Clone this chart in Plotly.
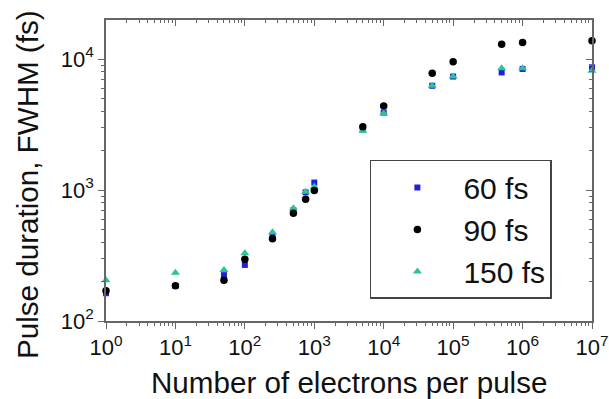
import plotly.graph_objects as go

electrons = [1, 10, 50, 100, 250, 500, 750, 1000, 5000, 1e4, 5e4, 1e5, 5e5, 1e6, 1e7]
fwhm_60 = [163, 185, 224, 268, 440, 700, 960, 1140, 2900, 3900, 6250, 7350, 7900, 8400, 8650]
fwhm_90 = [170, 186, 205, 296, 425, 664, 850, 990, 3040, 4370, 7780, 9520, 12950, 13400, 13800]
fwhm_150 = [205, 234, 245, 329, 475, 725, 970, 1060, 2840, 3850, 6250, 7350, 8490, 8500, 8150]

x_tickvals = [1, 10, 100, 1e3, 1e4, 1e5, 1e6, 1e7]
x_ticktext = ["10<sup>0</sup>", "10<sup>1</sup>", "10<sup>2</sup>", "10<sup>3</sup>",
              "10<sup>4</sup>", "10<sup>5</sup>", "10<sup>6</sup>", "10<sup>7</sup>"]
y_tickvals = [100, 1000, 10000]
y_ticktext = ["10<sup>2</sup>", "10<sup>3</sup>", "10<sup>4</sup>"]

x_minor = [m * 10 ** k for k in range(0, 7) for m in range(2, 10)]
y_minor = [m * 10 ** k for k in range(2, 5) for m in range(2, 10)]

FONT = "Liberation Sans, Arial, sans-serif"
AXC = "#666666"

fig = go.Figure()
fig.add_trace(go.Scatter(x=electrons, y=fwhm_60, mode="markers", name="60 fs",
                         marker=dict(symbol="square", size=6, color="#1f1fe0"),
                         legendrank=1, cliponaxis=False))
fig.add_trace(go.Scatter(x=electrons, y=fwhm_150, mode="markers", name="150 fs",
                         marker=dict(symbol="triangle-up", size=8, color="#2cc497"),
                         legendrank=3, cliponaxis=False))
fig.add_trace(go.Scatter(x=electrons, y=fwhm_90, mode="markers", name="90 fs",
                         marker=dict(symbol="circle", size=7.5, color="#000000"),
                         legendrank=2, cliponaxis=False))
# helper trace for mirrored top/right axes
fig.add_trace(go.Scatter(x=[1], y=[100], xaxis="x2", yaxis="y2", mode="markers",
                         marker=dict(opacity=0), showlegend=False, hoverinfo="skip"))

common = dict(type="log", showgrid=False, zeroline=False, showline=True, automargin=False,
              linecolor=AXC, linewidth=1.5, tickcolor=AXC, tickwidth=1.2)


def minor(vals, side):
    return dict(ticks=side, ticklen=3, tickcolor=AXC, tickwidth=1,
                tickmode="array", tickvals=vals, showgrid=False)


fig.update_layout(
    width=609, height=399,
    margin=dict(l=106, r=17, t=20, b=78),
    plot_bgcolor="white", paper_bgcolor="white",
    font=dict(family=FONT, color="#111111"),
    showlegend=True,
    xaxis=dict(**common, range=[0, 7], ticks="outside", ticklen=6,
               tickvals=x_tickvals, ticktext=x_ticktext,
               tickfont=dict(size=22, family=FONT, color="#111111"),
               minor=minor(x_minor, "outside")),
    yaxis=dict(**common, range=[2, 4.298], ticks="outside", ticklen=6,
               tickvals=y_tickvals, ticktext=y_ticktext,
               tickfont=dict(size=22, family=FONT, color="#111111"),
               minor=minor(y_minor, "outside")),
    xaxis2=dict(**common, range=[0, 7], overlaying="x", side="top", anchor="y2",
                ticks="inside", ticklen=6, tickvals=x_tickvals, showticklabels=False,
                minor=minor(x_minor, "inside")),
    yaxis2=dict(**common, range=[2, 4.298], overlaying="y", side="right", anchor="x2",
                ticks="inside", ticklen=6, tickvals=y_tickvals, showticklabels=False,
                minor=minor(y_minor, "inside")),
    legend=dict(x=0.543, y=0.535, xanchor="left", yanchor="top",
                bordercolor="#444444", borderwidth=1.5, bgcolor="white",
                font=dict(size=30, family=FONT, color="#111111"),
                itemwidth=82, tracegroupgap=0),
    annotations=[
        dict(text="Number of electrons per pulse", xref="paper", yref="paper",
             x=0.5, y=-0.203, xanchor="center", yanchor="middle", showarrow=False,
             font=dict(size=29.6, family=FONT, color="#111111")),
        dict(text="Pulse duration, FWHM (fs)", xref="paper", yref="paper",
             x=-0.1626, y=0.455, xanchor="center", yanchor="middle", showarrow=False,
             textangle=-90, font=dict(size=29.6, family=FONT, color="#111111")),
    ],
)

fig.write_html("out.html")
